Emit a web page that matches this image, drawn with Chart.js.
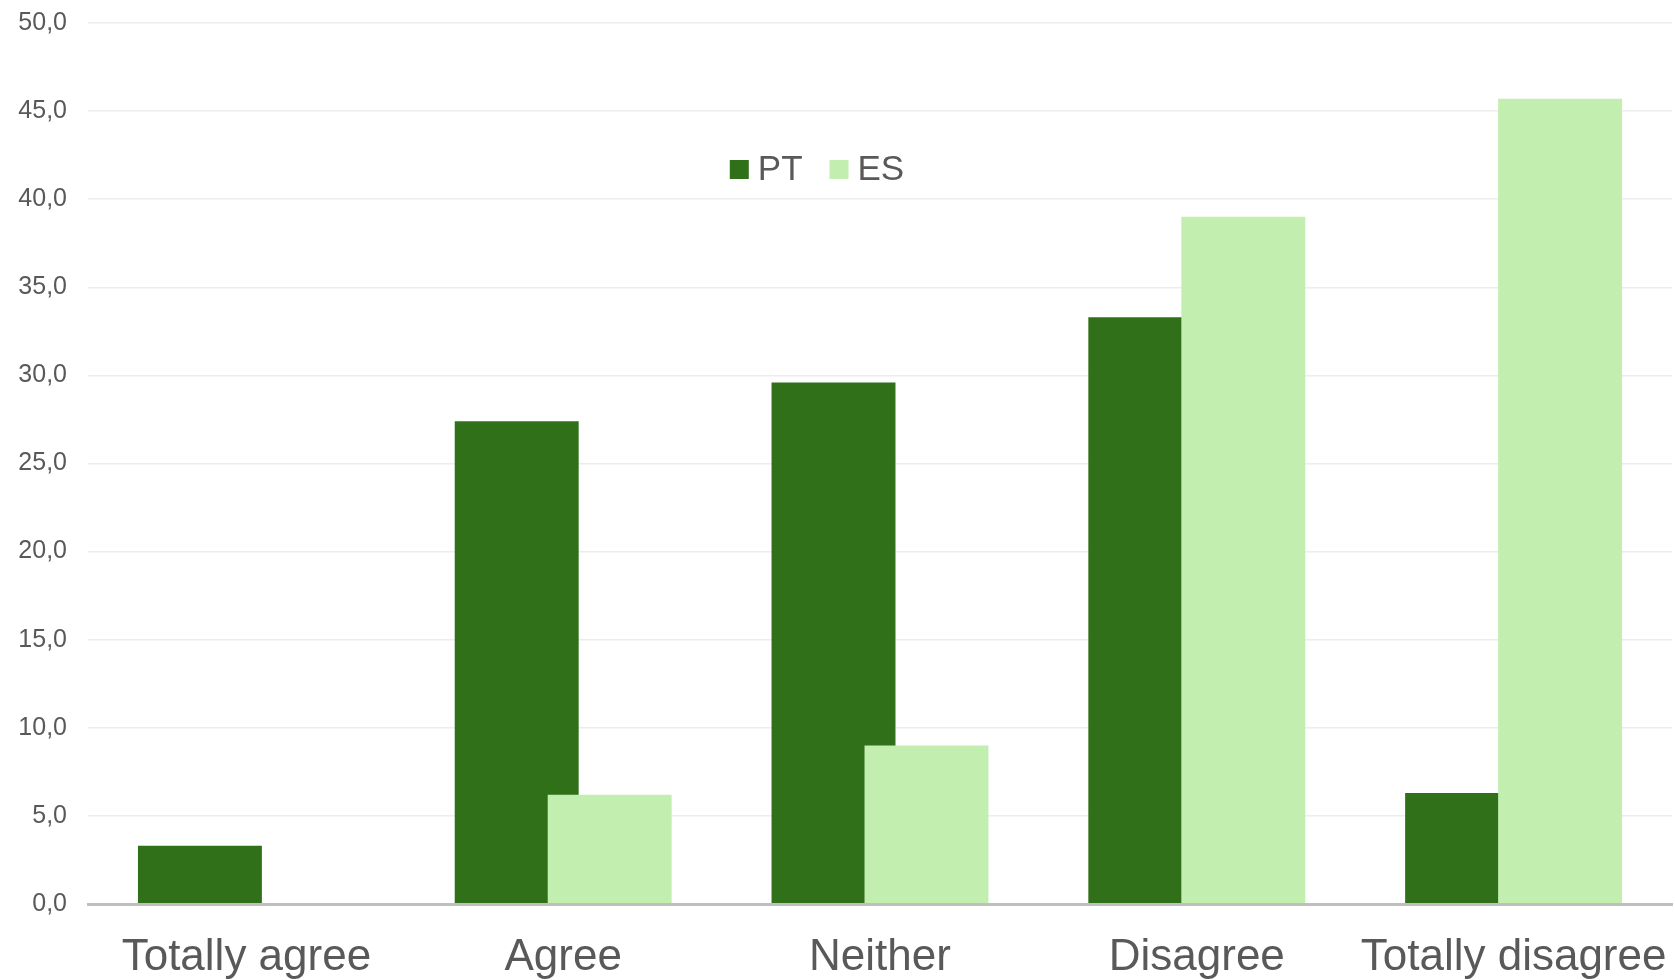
<!DOCTYPE html>
<html>
<head>
<meta charset="utf-8">
<script src="https://cdn.jsdelivr.net/npm/chart.js@4/dist/chart.umd.min.js"></script>
<style>
  html, body { margin: 0; padding: 0; background: #ffffff; }
  #wrap { position: relative; width: 1675px; height: 980px; }
</style>
</head>
<body>
<div id="wrap"><canvas id="chart" width="1675" height="980"></canvas></div>
<script>
// Response categories and shares (%) by country
const categories = ['Totally agree', 'Agree', 'Neither', 'Disagree', 'Totally disagree'];
const seriesNames = ['PT', 'ES'];
const ptValues = [3.3, 27.4, 29.6, 33.3, 6.3];
const esValues = [0.0, 6.2, 9.0, 39.0, 45.7];
const yTicks = [0, 5, 10, 15, 20, 25, 30, 35, 40, 45, 50];

const PT_COLOR = '#2f7018';
const ES_COLOR = '#c2efb0';
const TEXT_COLOR = '#595959';
const FONT = '"Liberation Sans", Arial, sans-serif';

// Draw datasets first-to-last so the second series sits over the first where bars overlap
const paintOrder = {
  id: 'paintOrder',
  beforeDatasetsDraw(chart) {
    chart.data.datasets.forEach((ds, i) => {
      const meta = chart.getDatasetMeta(i);
      if (!meta.hidden) meta.controller.draw();
    });
    return false;
  }
};

// Legend drawn inside the plot area, near the top
const insideLegend = {
  id: 'insideLegend',
  afterDraw(chart) {
    const ctx = chart.ctx;
    const box = 19;
    const gapText = 9;
    const gapItem = 27;
    ctx.save();
    ctx.font = '35px ' + FONT;
    ctx.textBaseline = 'alphabetic';
    const items = chart.data.datasets.map(ds => ({
      label: ds.label, color: ds.backgroundColor, w: ctx.measureText(ds.label).width
    }));
    const total = items.reduce((s, it) => s + box + gapText + it.w, 0) + gapItem * (items.length - 1);
    const centerX = 817;
    const baseline = 180;
    let x = centerX - total / 2;
    items.forEach(it => {
      ctx.fillStyle = it.color;
      ctx.fillRect(x, baseline - 20, box, box);
      x += box + gapText;
      ctx.fillStyle = TEXT_COLOR;
      ctx.fillText(it.label, x, baseline);
      x += it.w + gapItem;
    });
    ctx.restore();
  }
};

new Chart(document.getElementById('chart'), {
  type: 'bar',
  data: {
    labels: categories,
    datasets: [
      { label: seriesNames[0], data: ptValues, backgroundColor: PT_COLOR },
      { label: seriesNames[1], data: esValues, backgroundColor: ES_COLOR }
    ]
  },
  options: {
    responsive: false,
    animation: false,
    devicePixelRatio: 1,
    categoryPercentage: 0.587,
    barPercentage: 1.333,
    layout: { padding: { top: 23, right: 3, left: 0, bottom: 0 } },
    plugins: {
      legend: { display: false },
      tooltip: { enabled: false }
    },
    scales: {
      x: {
        grid: { display: false, drawTicks: false },
        border: { display: true, color: '#bfbfbf', width: 3, z: 1 },
        ticks: {
          color: TEXT_COLOR,
          font: { family: FONT, size: 44 },
          padding: 27,
          maxRotation: 0,
          autoSkip: false
        },
        afterFit(scale) {
          scale.height = 76;
          scale.paddingLeft = 0;
          scale.paddingRight = 0;
        }
      },
      y: {
        min: 0,
        max: 50,
        afterBuildTicks(scale) { scale.ticks = yTicks.map(v => ({ value: v })); },
        grid: { color: '#ececec', lineWidth: 1.5, drawTicks: false },
        border: { display: false },
        ticks: {
          color: TEXT_COLOR,
          font: { family: FONT, size: 25 },
          padding: 21,
          callback: v => v.toFixed(1).replace('.', ',')
        },
        afterFit(scale) {
          scale.width = 88;
          scale.paddingTop = 0;
          scale.paddingBottom = 0;
        }
      }
    }
  },
  plugins: [paintOrder, insideLegend]
});
</script>
</body>
</html>
